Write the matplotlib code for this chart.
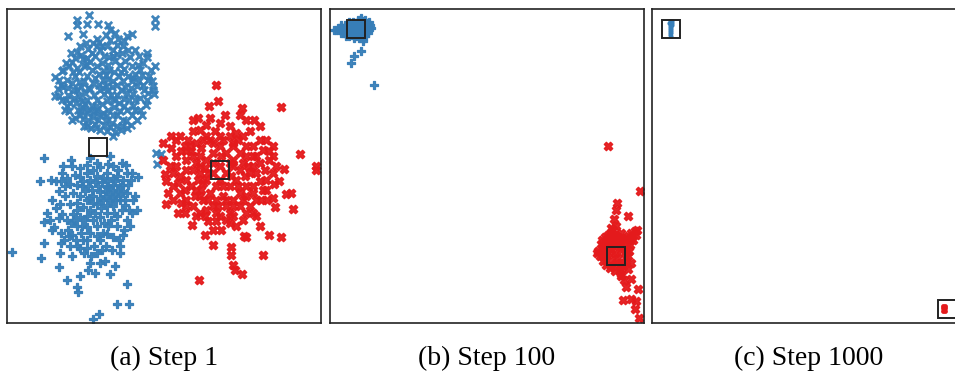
import numpy as np
import matplotlib
matplotlib.use("Agg")
import matplotlib.pyplot as plt

BLUE = "#377eb8"
RED = "#e41a1c"

# panel coordinates: x to the right, y downwards

# (a) step 1 -- upper blue cluster ("x" markers)
a_blue_x = [
    (268, 45), (232, 62), (232, 76), (262, 72), (293, 74), (325, 76), (465, 58), (465, 78),
    (205, 110), (248, 102), (330, 90), (318, 106), (395, 102), (380, 108), (292, 118), (298, 128),
    (355, 118), (350, 136), (338, 150), (265, 148), (212, 160), (230, 156), (242, 165), (440, 160),
    (440, 172), (405, 150), (418, 168), (465, 198), (163, 232), (185, 215), (198, 190), (216, 186),
    (206, 200), (190, 212), (175, 240), (460, 258), (460, 270), (462, 282), (448, 230), (165, 288),
    (178, 288), (197, 300), (196, 330), (208, 335), (215, 362), (226, 355), (240, 345), (252, 380),
    (272, 386), (300, 392), (340, 408), (345, 398), (362, 392), (380, 386), (410, 362), (420, 332),
    (440, 302), (432, 272), (445, 242), (426, 226), (414, 196),
    (390, 172), (365, 160), (350, 162), (328, 172), (300, 152), (285, 170), (270, 186), (252, 200),
    (238, 218), (225, 230), (215, 250), (205, 265), (222, 272), (238, 290), (228, 310), (248, 322),
    (262, 340), (280, 352), (295, 362), (318, 362), (335, 370), (352, 346), (368, 362), (382, 332),
    (398, 318), (405, 300), (398, 282), (412, 260), (395, 245), (385, 228), (372, 208), (360, 196),
    (345, 185), (325, 195), (305, 190), (290, 200), (275, 212), (262, 228), (252, 245), (242, 262),
    (255, 280), (262, 300), (275, 318), (292, 330), (308, 340), (325, 330), (342, 322), (358, 310),
    (372, 298), (380, 280), (375, 262), (368, 245), (356, 230), (342, 218), (328, 210), (312, 215),
    (298, 222), (285, 235), (278, 250), (270, 268), (282, 285), (292, 300), (305, 312), (320, 305),
    (338, 298), (350, 285), (362, 272), (352, 255), (340, 245), (325, 238), (310, 240), (298, 255),
    (300, 272), (312, 282), (325, 272), (335, 262), (318, 258), (308, 265), (318, 225), (332, 285),
    (345, 300), (288, 318), (265, 265), (246, 305), (232, 270), (222, 295), (258, 195), (248, 178),
    (275, 160), (312, 168), (340, 170), (375, 185), (395, 200), (405, 222), (418, 245), (392, 265),
    (386, 300), (372, 320), (360, 335), (338, 345), (318, 348), (300, 345), (282, 338), (268, 330),
    (256, 312), (244, 335), (236, 248), (230, 205), (218, 218), (200, 240), (190, 262), (205, 285),
    (210, 310), (395, 345), (405, 330), (420, 295), (430, 255), (392, 375), (366, 378), (330, 382),
    (312, 375), (285, 372), (265, 362), (250, 358), (235, 330), (260, 380), (288, 385), (320, 395),
    (350, 380), (378, 365), (400, 235), (362, 218), (290, 140), (320, 140), (370, 138), (385, 150),
    (260, 175), (330, 120), (305, 138), (280, 130), (345, 100), (372, 125), (258, 130), (240, 140),
    (225, 175), (420, 210), (430, 190), (452, 210), (455, 245), (445, 280), (438, 315), (425, 345),
    (200, 320), (185, 300), (182, 255), (172, 268),
    (468, 460), (482, 462), (470, 492),
]

# (a) step 1 -- lower blue cluster ("+" markers)
a_blue_p = [
    (35, 756), (122, 776), (130, 476), (120, 545), (130, 730), (130, 666), (140, 640), (175, 802),
    (200, 842), (230, 862), (234, 876), (240, 830), (265, 812), (285, 820), (300, 790), (316, 785),
    (330, 822), (346, 800), (380, 852), (350, 912), (386, 912), (280, 958), (297, 944), (415, 532),
    (410, 632), (395, 520), (378, 496), (365, 490), (330, 470), (325, 492), (270, 476), (212, 482),
    (186, 520), (166, 545), (152, 540), (208, 710), (155, 690), (178, 655), (183, 730), (215, 770),
    (240, 745), (270, 790), (305, 750), (360, 760), (370, 705), (390, 680), (395, 640), (405, 590),
    (175, 575), (156, 600), (180, 612), (186, 642), (160, 682), (182, 700), (192, 722), (216, 706),
    (242, 700), (232, 740), (252, 760), (272, 770), (282, 740), (300, 722), (320, 702), (340, 712),
    (356, 722), (372, 690), (380, 662), (386, 632), (400, 602), (376, 600), (360, 562), (340, 556),
    (320, 562), (300, 576), (280, 590), (260, 600), (240, 590), (220, 580), (210, 552), (240, 532),
    (260, 520), (280, 512), (300, 502), (320, 520), (350, 530), (370, 542), (380, 580), (360, 602),
    (340, 620), (320, 640), (300, 652), (280, 662), (260, 682), (240, 652), (220, 642), (210, 612),
    (200, 662), (250, 622), (270, 632), (290, 612), (310, 602), (330, 582), (345, 582), (325, 560),
    (305, 546), (285, 546), (265, 560), (245, 560), (230, 610), (262, 650), (292, 680), (312, 670),
    (332, 660), (352, 650), (365, 630), (348, 600), (335, 595), (318, 590), (302, 625), (285, 640),
    (270, 700), (250, 720), (232, 680), (222, 660), (196, 590), (195, 560), (230, 555), (255, 575),
    (275, 570), (295, 560), (315, 575), (338, 570), (355, 575), (365, 555), (385, 555), (392, 540),
    (345, 545), (310, 535), (292, 530), (270, 540), (250, 545), (225, 525), (200, 535), (182, 545),
    (190, 500), (215, 500), (240, 505), (262, 495), (290, 490), (340, 500), (355, 510), (380, 520),
    (368, 575), (322, 615), (342, 640), (325, 680), (310, 700), (290, 710), (262, 722), (245, 680),
    (228, 720), (210, 740), (180, 760), (260, 745), (290, 760), (318, 740), (335, 750), (360, 740),
    (150, 660), (168, 625), (205, 690), (278, 610), (300, 595), (230, 630), (212, 670), (320, 545),
    (340, 535), (330, 600), (360, 590), (375, 615), (350, 680), (255, 660), (268, 595),
]

# (a) step 1 -- red cluster
a_red = [
    (650, 256), (655, 305), (628, 320), (845, 322), (728, 326), (580, 360), (595, 355), (630, 355),
    (740, 360), (762, 360), (780, 380), (822, 438), (902, 462), (950, 500), (950, 512), (855, 508),
    (875, 580), (860, 582), (880, 628), (828, 622), (802, 602), (845, 712), (810, 706), (790, 765),
    (726, 822), (706, 812), (700, 796), (693, 766), (693, 742), (640, 736), (615, 706), (598, 842),
    (578, 676), (535, 640), (500, 612), (490, 430), (488, 482), (497, 522), (515, 408), (540, 410),
    (738, 712), (732, 708), (770, 648), (780, 680), (820, 595),
    (555, 440), (575, 455), (605, 445), (620, 410), (645, 395), (690, 380), (710, 400), (700, 430),
    (740, 440), (760, 470), (782, 420), (800, 420), (810, 482), (820, 520), (825, 552), (800, 570),
    (780, 545), (770, 600), (760, 640), (740, 640), (720, 620), (700, 650), (680, 662), (650, 665),
    (625, 665), (600, 640), (580, 620), (560, 600), (540, 580), (520, 560), (500, 545), (510, 500),
    (530, 470), (560, 480), (590, 490), (600, 520), (610, 550), (630, 580), (650, 600), (670, 590),
    (690, 560), (710, 540), (720, 510), (730, 490), (700, 480), (680, 460), (660, 440), (640, 460),
    (620, 480), (600, 470), (580, 510), (560, 540), (540, 530), (520, 520), (640, 520), (660, 540),
    (680, 520), (700, 500), (660, 500), (620, 540), (590, 570), (610, 600), (640, 620), (680, 620),
    (700, 600), (720, 580), (740, 560), (750, 520), (760, 500), (740, 470), (720, 460), (700, 440),
    (670, 420), (640, 430), (610, 420), (590, 430), (570, 440), (545, 455), (530, 500), (560, 510),
    (600, 590), (650, 640), (690, 640), (730, 600), (770, 520), (620, 375), (660, 370), (675, 345),
    (720, 345), (750, 395), (790, 450), (780, 490), (795, 510), (760, 560), (740, 590), (710, 680),
    (665, 690), (640, 690), (615, 650), (590, 650), (555, 640), (520, 600), (505, 580), (515, 445),
    (530, 420), (565, 420), (580, 395), (600, 390), (630, 420), (660, 410), (690, 410), (715, 420),
    (730, 410), (760, 440), (770, 470), (745, 500), (690, 490), (665, 470), (640, 490), (615, 505),
    (595, 540), (575, 560), (555, 570), (535, 550), (560, 455), (580, 470), (600, 500), (625, 520),
    (650, 560), (670, 560), (695, 530), (715, 560), (735, 530), (700, 620), (680, 600), (655, 620),
    (625, 600), (605, 570), (585, 590), (560, 620), (545, 610), (620, 630), (660, 650), (690, 670),
    (730, 660), (750, 620), (760, 580), (785, 600), (790, 570), (800, 540), (810, 455), (830, 500),
    (840, 545), (820, 470),
]

# (b) step 100
b_blue = [
    (24, 92), (104, 55), (104, 155), (84, 170), (76, 190), (146, 255),
    (96, 60), (106, 58), (116, 62),
    (70, 68), (81, 67), (90, 69), (101, 68), (110, 67), (121, 70), (128, 68),
    (45, 76), (56, 77), (66, 75), (75, 77), (86, 76), (95, 75), (106, 77), (115, 76), (125, 75), (133, 77),
    (38, 84), (48, 85), (58, 83), (68, 85), (78, 84), (88, 86), (98, 84), (108, 83), (118, 85), (128, 84),
    (135, 86), (30, 92), (41, 91), (50, 93), (61, 92), (70, 91), (80, 93), (90, 92), (100, 91), (110, 93),
    (120, 92), (130, 91), (45, 100), (55, 101), (65, 99), (75, 100), (85, 101), (95, 99), (105, 100),
    (115, 101), (125, 99), (60, 108), (70, 109), (80, 107), (90, 108), (100, 109), (110, 107), (118, 108),
    (85, 116), (100, 115), (112, 117), (112, 125),
]

b_red = [
    (850, 440), (945, 575), (877, 610), (875, 630), (910, 648), (868, 658), (860, 685), (938, 690),
    (820, 755), (888, 823), (898, 840), (918, 838), (905, 862), (940, 868), (895, 902), (920, 898),
    (935, 905), (930, 928), (942, 955),
    (830, 720), (840, 712), (850, 705), (860, 700), (870, 705), (880, 712), (890, 715), (900, 720),
    (910, 710), (920, 700), (930, 695), (935, 705), (925, 720), (915, 735), (905, 745), (900, 760),
    (910, 770), (905, 785), (895, 800), (885, 810), (870, 815), (855, 805), (845, 795), (835, 785),
    (825, 770), (815, 760), (830, 745), (840, 735), (850, 728), (860, 725), (870, 730), (880, 740),
    (890, 750), (860, 750), (870, 760), (880, 775), (860, 780), (845, 770), (835, 760), (850, 760),
    (875, 790), (890, 790), (865, 800), (900, 730), (920, 715), (912, 755), (918, 790), (890, 830),
    (910, 808), (880, 725), (855, 740), (865, 690), (875, 680), (890, 700), (828, 732), (838, 752),
]

# (c) step 1000
c_blue = [
    (88, 64), (94, 64), (87, 70), (94, 70), (88, 76), (94, 76), (88, 82), (93, 82),
    (89, 88), (93, 88), (89, 94), (93, 94), (90, 100), (93, 100), (90, 106), (92, 110),
]
c_red = [
    (912, 918), (918, 918), (912, 926), (918, 926), (912, 934), (918, 934), (915, 930),
]

# cluster centres (black squares)
a_centres = [(293, 441), (661, 511)]
b_centres = [(89, 89), (873, 768)]
c_centres = [(92, 88), (922, 928)]

captions = ["(a) Step 1", "(b) Step 100", "(c) Step 1000"]
limits = [((20, 965), (970, 28)), ((12, 958), (970, 28)), ((35, 980), (970, 28))]

plt.rcParams["font.family"] = ["Liberation Serif", "DejaVu Serif"]

fig = plt.figure(figsize=(9.55, 3.77), dpi=100)
lefts = [7 / 955, 330 / 955, 652 / 955]
axes = [fig.add_axes([l, 54 / 377, 314 / 955, 314 / 377]) for l in lefts]


def pts(lst):
    arr = np.array(lst, dtype=float)
    return arr[:, 0], arr[:, 1]


ax = axes[0]
x, y = pts(a_blue_x)
ax.scatter(x, y, marker="x", s=28, linewidths=2.0, color=BLUE, alpha=0.95)
x, y = pts(a_blue_p)
ax.scatter(x, y, marker="P", s=34, linewidths=0.9, color=BLUE, edgecolors=BLUE, alpha=0.95)
x, y = pts(a_red)
ax.scatter(x, y, marker="X", s=36, linewidths=1.0, color=RED, edgecolors=RED, alpha=0.95)

ax = axes[1]
x, y = pts(b_blue)
ax.scatter(x, y, marker="P", s=34, linewidths=0.9, color=BLUE, edgecolors=BLUE, alpha=0.95)
x, y = pts(b_red)
ax.scatter(x, y, marker="X", s=36, linewidths=1.0, color=RED, edgecolors=RED, alpha=0.95)

ax = axes[2]
x, y = pts(c_blue)
ax.scatter(x, y, marker="o", s=9, linewidths=0, color=BLUE)
x, y = pts(c_red)
ax.scatter(x, y, marker="o", s=12, linewidths=0, color=RED)

for ax, centres, (xl, yl), cap in zip(axes, [a_centres, b_centres, c_centres], limits, captions):
    x, y = pts(centres)
    ax.plot(x, y, "s", ms=13, mfc="none", mec="#222222", mew=1.4, ls="none")
    ax.set_xlim(*xl)
    ax.set_ylim(*yl)
    ax.set_xticks([])
    ax.set_yticks([])
    for sp in ax.spines.values():
        sp.set_linewidth(1.2)
        sp.set_color("#222222")
    ax.text(0.5, -0.112, cap, transform=ax.transAxes, ha="center", va="center", fontsize=20)

fig.savefig("out.png", dpi=100)
